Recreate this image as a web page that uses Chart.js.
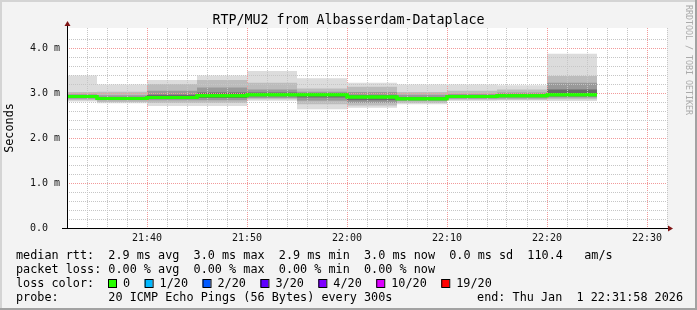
<!DOCTYPE html>
<html>
<head>
<meta charset="utf-8">
<title>RTP/MU2 from Albasserdam-Dataplace</title>
<script src="https://cdn.jsdelivr.net/npm/chart.js@4.4.0/dist/chart.umd.min.js"></script>
<style>
  html, body { margin: 0; padding: 0; background: #f3f3f3; }
  canvas { display: block; }
</style>
</head>
<body>
<canvas id="smokeChart" width="697" height="310"></canvas>
<script>
// 5 minute bins (start times); the last bin ends at binEnd.
var binStarts = ['21:30', '21:35', '21:40', '21:45', '21:50', '21:55',
  '22:00', '22:05', '22:10', '22:15', '22:20'];
var binEnd = '22:25';
var axisStart = '21:32';
var axisEnd = '22:32';

// Round trip times in ms.
var medianRtt = [2.92, 2.88, 2.90, 2.94, 2.96, 2.96, 2.91, 2.87, 2.92, 2.94, 2.96];
var pingMin = [2.81, 2.77, 2.71, 2.71, 2.83, 2.64, 2.67, 2.75, 2.82, 2.83, 2.82];
var pingMax = [3.39, 3.19, 3.29, 3.39, 3.49, 3.33, 3.23, 3.19, 3.19, 3.17, 3.87];
var ping10 = [2.84, 2.80, 2.78, 2.78, 2.86, 2.75, 2.72, 2.78, 2.85, 2.85, 2.86];
var ping90 = [3.02, 3.03, 3.20, 3.29, 3.23, 3.10, 3.14, 3.02, 3.05, 3.08, 3.38];
var ping25 = [2.87, 2.84, 2.84, 2.84, 2.89, 2.83, 2.78, 2.82, 2.87, 2.88, 2.90];
var ping75 = [2.97, 2.95, 3.05, 3.12, 3.08, 3.03, 3.02, 2.96, 2.98, 3.01, 3.23];
var ping40 = [2.89, 2.86, 2.88, 2.89, 2.93, 2.90, 2.84, 2.85, 2.89, 2.91, 2.93];
var ping60 = [2.94, 2.91, 2.96, 3.01, 3.01, 2.99, 2.95, 2.91, 2.95, 2.97, 3.08];

// Title and legend.
var chartTitle = 'RTP/MU2 from Albasserdam-Dataplace';
var lossLabels = ['0', '1/20', '2/20', '3/20', '4/20', '10/20', '19/20'];
var lossColors = ['#26ff00', '#00b8ff', '#0059ff', '#5e00ff', '#7e00ff', '#dd00ff', '#ff0000'];
var legendLines = [
  'median rtt:  2.9 ms avg  3.0 ms max  2.9 ms min  3.0 ms now  0.0 ms sd  110.4   am/s',
  'packet loss: 0.00 % avg  0.00 % max  0.00 % min  0.00 % now',
  'loss color:',
  'probe:       20 ICMP Echo Pings (56 Bytes) every 300s'
];
var endText = 'end: Thu Jan  1 22:31:58 2026';

var MONO = '"DejaVu Sans Mono", monospace';

function toMin(t) {
  var p = t.split(':');
  return Number(p[0]) * 60 + Number(p[1]);
}

function pad2(n) {
  return (n < 10 ? '0' : '') + n;
}

// Bin start points plus a closing point, drawn as steps.
function stepData(values) {
  var pts = binStarts.map(function (t, i) {
    return { x: toMin(t), y: values[i] };
  });
  pts.push({ x: toMin(binEnd), y: values[values.length - 1] });
  return pts;
}

function band(values, order, fillTarget, color) {
  return {
    data: stepData(values),
    stepped: 'before',
    borderColor: 'rgba(0,0,0,0)',
    borderWidth: 0,
    backgroundColor: color || 'rgba(0,0,0,0)',
    pointRadius: 0,
    fill: fillTarget,
    order: order
  };
}

function isWhole(v) {
  return Math.abs(v - Math.round(v)) < 1e-6;
}

var smokeFrame = {
  id: 'smokeFrame',
  beforeDraw: function (chart) {
    var ctx = chart.ctx;
    var area = chart.chartArea;
    ctx.save();
    ctx.fillStyle = '#f3f3f3';
    ctx.fillRect(0, 0, chart.width, chart.height);
    // shaded image border
    ctx.fillStyle = '#d4d4d4';
    ctx.fillRect(0, 0, chart.width, 2);
    ctx.fillRect(0, 0, 2, chart.height);
    ctx.fillStyle = '#a2a2a2';
    ctx.fillRect(0, chart.height - 2, chart.width, 2);
    ctx.fillRect(chart.width - 2, 0, 2, chart.height);
    ctx.fillStyle = '#ffffff';
    ctx.fillRect(area.left, area.top, area.right - area.left, area.bottom - area.top);
    // title, centred on the whole image
    ctx.fillStyle = '#000000';
    ctx.font = '13.3px ' + MONO;
    ctx.textAlign = 'center';
    ctx.textBaseline = 'alphabetic';
    ctx.fillText(chartTitle, chart.width / 2, 24);
    ctx.restore();
  },
  afterDraw: function (chart) {
    var ctx = chart.ctx;
    var area = chart.chartArea;

    // Median on top of the grid.
    ctx.save();
    ctx.beginPath();
    ctx.rect(area.left, area.top, area.right - area.left, area.bottom - area.top);
    ctx.clip();
    chart.getDatasetMeta(0).controller.draw();
    ctx.restore();

    ctx.save();
    // axes
    ctx.fillStyle = '#000000';
    ctx.fillRect(area.left, 25, 1, area.bottom - 25 + 1);
    ctx.fillRect(area.left - 5, area.bottom, area.right - area.left + 7, 1);
    ctx.fillStyle = '#7f1414';
    ctx.beginPath();
    ctx.moveTo(area.left - 2.5, 26);
    ctx.lineTo(area.left + 3.5, 26);
    ctx.lineTo(area.left + 0.5, 21);
    ctx.closePath();
    ctx.fill();
    ctx.beginPath();
    ctx.moveTo(area.right + 1, area.bottom - 2.5);
    ctx.lineTo(area.right + 1, area.bottom + 3.5);
    ctx.lineTo(area.right + 6, area.bottom + 0.5);
    ctx.closePath();
    ctx.fill();

    // watermark
    ctx.fillStyle = '#aaaaaa';
    ctx.font = '8.3px ' + MONO;
    ctx.textBaseline = 'middle';
    ctx.textAlign = 'left';
    ctx.translate(688.5, 5);
    ctx.rotate(Math.PI / 2);
    ctx.fillText('RRDTOOL / TOBI OETIKER', 0, 0);
    ctx.restore();

    // legend
    ctx.save();
    ctx.font = '11.8px ' + MONO;
    ctx.fillStyle = '#000000';
    ctx.textBaseline = 'alphabetic';
    ctx.textAlign = 'left';
    legendLines.forEach(function (line, i) {
      ctx.fillText(line, 16, 259 + i * 14);
    });
    ctx.textAlign = 'right';
    ctx.fillText(endText, 683, 301);
    ctx.textAlign = 'left';
    var x = 108;
    lossLabels.forEach(function (label, i) {
      ctx.fillStyle = lossColors[i];
      ctx.fillRect(x, 279, 8, 8);
      ctx.strokeStyle = '#000000';
      ctx.lineWidth = 1;
      ctx.strokeRect(x + 0.5, 279.5, 8, 8);
      ctx.fillStyle = '#000000';
      ctx.fillText(label, x + 15, 287);
      x += 15 + ctx.measureText(label).width + 14.5;
    });
    ctx.restore();
  }
};

var ctx = document.getElementById('smokeChart').getContext('2d');
var chart = new Chart(ctx, {
  type: 'line',
  data: {
    datasets: [
      {
        label: 'median rtt',
        data: stepData(medianRtt),
        stepped: 'before',
        borderColor: '#22ff00',
        borderWidth: 3,
        pointRadius: 0,
        fill: false,
        order: 0
      },
      band(ping40, 1, false),
      band(ping60, 1, 1, '#6a6a6a'),
      band(ping25, 2, false),
      band(ping75, 2, 3, '#999999'),
      band(ping10, 3, false),
      band(ping90, 3, 5, '#bcbcbc'),
      band(pingMin, 4, false),
      band(pingMax, 4, 7, '#dcdcdc')
    ]
  },
  options: {
    responsive: false,
    devicePixelRatio: 1,
    animation: false,
    layout: { padding: { top: 28, right: 30, left: 0, bottom: 0 } },
    plugins: {
      legend: { display: false },
      tooltip: { enabled: false },
      title: { display: false }
    },
    scales: {
      x: {
        type: 'linear',
        min: toMin(axisStart),
        max: toMin(axisEnd),
        afterFit: function (scale) { scale.height = 82; },
        grid: {
          z: 1,
          drawTicks: false,
          color: function (c) {
            return c.tick && c.tick.value % 10 === 0 ? '#f29a9a' : '#c6c6c6';
          }
        },
        border: { display: false, dash: [1, 1] },
        ticks: {
          stepSize: 2,
          autoSkip: false,
          maxRotation: 0,
          padding: 4,
          color: '#111111',
          font: { family: MONO, size: 10 },
          callback: function (v) {
            if (v % 10 !== 0) return '';
            return pad2(Math.floor(v / 60)) + ':' + pad2(v % 60);
          }
        }
      },
      y: {
        min: 0,
        max: 200 / 45,
        afterFit: function (scale) { scale.width = 67; },
        afterBuildTicks: function (scale) {
          scale.ticks = scale.ticks.filter(function (t) {
            return isWhole(t.value * 5);
          });
        },
        title: {
          display: true,
          text: 'Seconds',
          color: '#000000',
          font: { family: MONO, size: 11.8 },
          padding: { top: 3, bottom: 0 }
        },
        grid: {
          z: 1,
          drawTicks: false,
          color: function (c) {
            return c.tick && isWhole(c.tick.value) ? '#f29a9a' : '#c6c6c6';
          }
        },
        border: { display: false, dash: [1, 1] },
        ticks: {
          stepSize: 0.2,
          autoSkip: false,
          padding: 7,
          color: '#111111',
          font: { family: MONO, size: 10 },
          callback: function (v) {
            if (!isWhole(v)) return '';
            return v === 0 ? '0.0  ' : v.toFixed(1) + ' m';
          }
        }
      }
    }
  },
  plugins: [smokeFrame]
});
</script>
</body>
</html>
